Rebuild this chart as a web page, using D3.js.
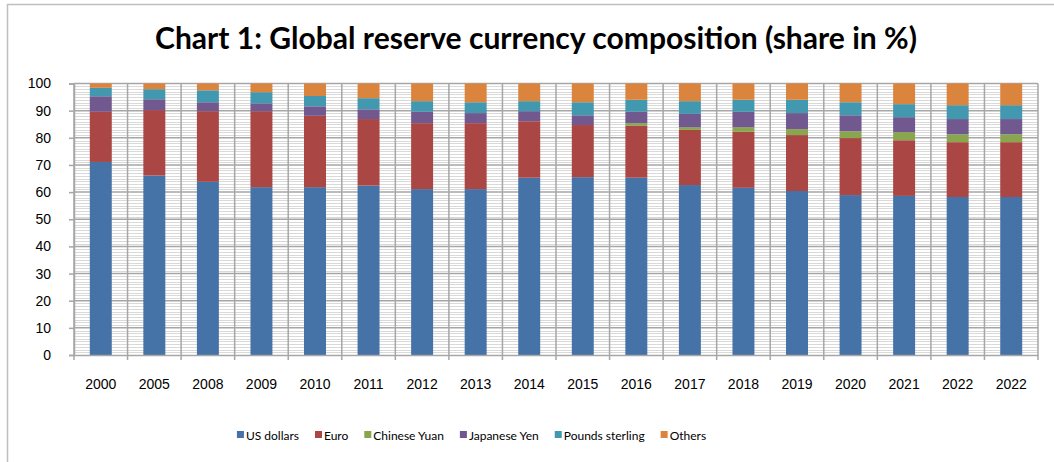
<!DOCTYPE html>
<meta charset="utf-8">
<title>Chart 1: Global reserve currency composition</title>
<style>
body { margin: 0; background: #fff; }
svg { font-family: Lato, 'Open Sans', sans-serif; }
.axis path, .axis line { stroke: #a6a6a6; }
.axis text { fill: #000; }
</style>
<svg width="1054" height="462"></svg>
<script src="https://d3js.org/d3.v7.min.js"></script>
<script>

// data
var years = ["2000", "2005", "2008", "2009", "2010", "2011", "2012", "2013", "2014",
             "2015", "2016", "2017", "2018", "2019", "2020", "2021", "2022", "2022"];
var usDollars = [71.1, 66.1, 63.8, 61.8, 61.8, 62.4, 61.1, 61.1, 65.3, 65.5, 65.3, 62.6, 61.6, 60.4, 58.9, 58.6, 58.2, 58.2];
var euro      = [18.5, 24.1, 26.0, 28.0, 26.3, 24.5, 24.3, 24.3, 20.8, 19.2, 19.1, 20.3, 20.6, 20.6, 21.0, 20.5, 20.2, 20.2];
var yuan      = [0, 0, 0, 0, 0, 0, 0, 0, 0, 0, 1.0, 1.0, 1.7, 2.2, 2.5, 3.0, 2.9, 2.9];
var yen       = [5.7, 4.0, 3.3, 2.9, 3.5, 3.6, 4.2, 3.7, 3.7, 3.6, 4.2, 4.9, 5.7, 5.9, 5.9, 5.5, 5.6, 5.6];
var sterling  = [3.1, 3.7, 4.4, 4.1, 3.8, 4.1, 3.9, 4.0, 3.7, 4.8, 4.4, 4.7, 4.4, 4.9, 4.8, 4.8, 5.1, 5.1];
var others    = [1.6, 2.1, 2.5, 3.2, 4.6, 5.4, 6.5, 6.9, 6.5, 6.9, 6.0, 6.5, 6.0, 6.0, 6.9, 7.6, 8.0, 8.0];

var seriesNames = ["US dollars", "Euro", "Chinese Yuan", "Japanese Yen", "Pounds sterling", "Others"];
var seriesValues = [usDollars, euro, yuan, yen, sterling, others];
var colors = ["#4572a7", "#aa4643", "#89a54e", "#71588f", "#4198af", "#db843d"];
var yTicks = d3.range(0, 101, 10);

var table = years.map(function(y, i) {
  var row = {i: i, year: y};
  seriesNames.forEach(function(k, j) { row[k] = seriesValues[j][i]; });
  return row;
});

var svg = d3.select("svg");

// outer frame (runs off the bottom/right of the window)
svg.append("path")
  .attr("d", "M7.5,470V4.5H1060")
  .attr("fill", "none")
  .attr("stroke", "#bfbfbf")
  .attr("stroke-width", 1.5);

svg.append("text")
  .attr("x", 536)
  .attr("y", 49)
  .attr("text-anchor", "middle")
  .style("font-size", "30px")
  .style("font-weight", "bold")
  .attr("textLength", 762)
  .attr("lengthAdjust", "spacingAndGlyphs")
  .text("Chart 1: Global reserve currency composition (share in %)");

var plotLeft = 74, plotRight = 1038, plotTop = 83.5, plotBottom = 355;

var x = d3.scaleBand()
  .domain(table.map(function(d) { return d.i; }))
  .range([plotLeft, plotRight]);

var y = d3.scaleLinear()
  .domain([0, 100])
  .range([plotBottom, plotTop]);

var grid = svg.append("g");

// minor gridlines every 1%
grid.selectAll("line.minor")
  .data(d3.range(1, 100).filter(function(v) { return v % 10 != 0; }))
  .enter().append("line")
    .attr("class", "minor")
    .attr("x1", plotLeft).attr("x2", plotRight)
    .attr("y1", function(d) { return Math.round(y(d)) + 0.5; })
    .attr("y2", function(d) { return Math.round(y(d)) + 0.5; })
    .attr("stroke", "#d9d9d9")
    .attr("stroke-width", 1);

// major gridlines every 10%
grid.selectAll("line.major")
  .data(yTicks.slice(1))
  .enter().append("line")
    .attr("class", "major")
    .attr("x1", plotLeft).attr("x2", plotRight)
    .attr("y1", function(d) { return y(d); })
    .attr("y2", function(d) { return y(d); })
    .attr("stroke", "#a6a6a6")
    .attr("stroke-width", 1.5);

// vertical lines between categories, with ticks below the axis
var bounds = d3.range(years.length + 1).map(function(k) { return plotLeft + k * x.bandwidth(); });
grid.selectAll("line.vert")
  .data(bounds)
  .enter().append("line")
    .attr("class", "vert")
    .attr("x1", function(d) { return d; })
    .attr("x2", function(d) { return d; })
    .attr("y1", plotTop)
    .attr("y2", plotBottom + 5)
    .attr("stroke", "#a6a6a6")
    .attr("stroke-width", 1.5);

var stack = d3.stack().keys(seriesNames);
var layers = stack(table);
var barW = x.bandwidth() * 0.41;

svg.append("g")
  .selectAll("g")
  .data(layers)
  .enter().append("g")
    .attr("fill", function(d, j) { return colors[j]; })
  .selectAll("rect")
  .data(function(d) { return d; })
  .enter().append("rect")
    .attr("x", function(d) { return x(d.data.i) + (x.bandwidth() - barW) / 2; })
    .attr("width", barW)
    .attr("y", function(d) { return y(d[1]); })
    .attr("height", function(d) { return y(d[0]) - y(d[1]); });

// y axis
svg.append("g")
  .attr("class", "axis")
  .attr("transform", "translate(" + plotLeft + ",0)")
  .call(d3.axisLeft(y).tickValues(yTicks).tickSize(5).tickPadding(18))
  .call(function(g) {
    g.select(".domain").attr("stroke-width", 1.5);
    g.selectAll("line").attr("stroke-width", 1.5);
    g.selectAll("text").style("font-size", "14px").attr("font-family", null);
  });

// x axis line + labels
svg.append("g")
  .attr("class", "axis")
  .attr("transform", "translate(0," + plotBottom + ")")
  .call(d3.axisBottom(x).tickSize(0).tickPadding(24).tickFormat(function(i) { return years[i]; }))
  .call(function(g) {
    g.select(".domain").attr("stroke-width", 1.5);
    g.selectAll("text").style("font-size", "14px").attr("font-family", null);
  });

// legend
var legend = svg.append("g");
var lx = 0;
seriesNames.forEach(function(name, j) {
  var item = legend.append("g").attr("transform", "translate(" + lx + ",0)");
  item.append("rect")
    .attr("x", 0).attr("y", -4)
    .attr("width", 7).attr("height", 7)
    .attr("fill", colors[j]);
  var t = item.append("text")
    .attr("x", 9).attr("y", 4.5)
    .style("font-size", "12px")
    .text(name);
  lx += 9 + t.node().getComputedTextLength() + 16;
});
lx -= 16;
legend.attr("transform", "translate(" + (471.5 - lx / 2) + ",435)");

</script>
